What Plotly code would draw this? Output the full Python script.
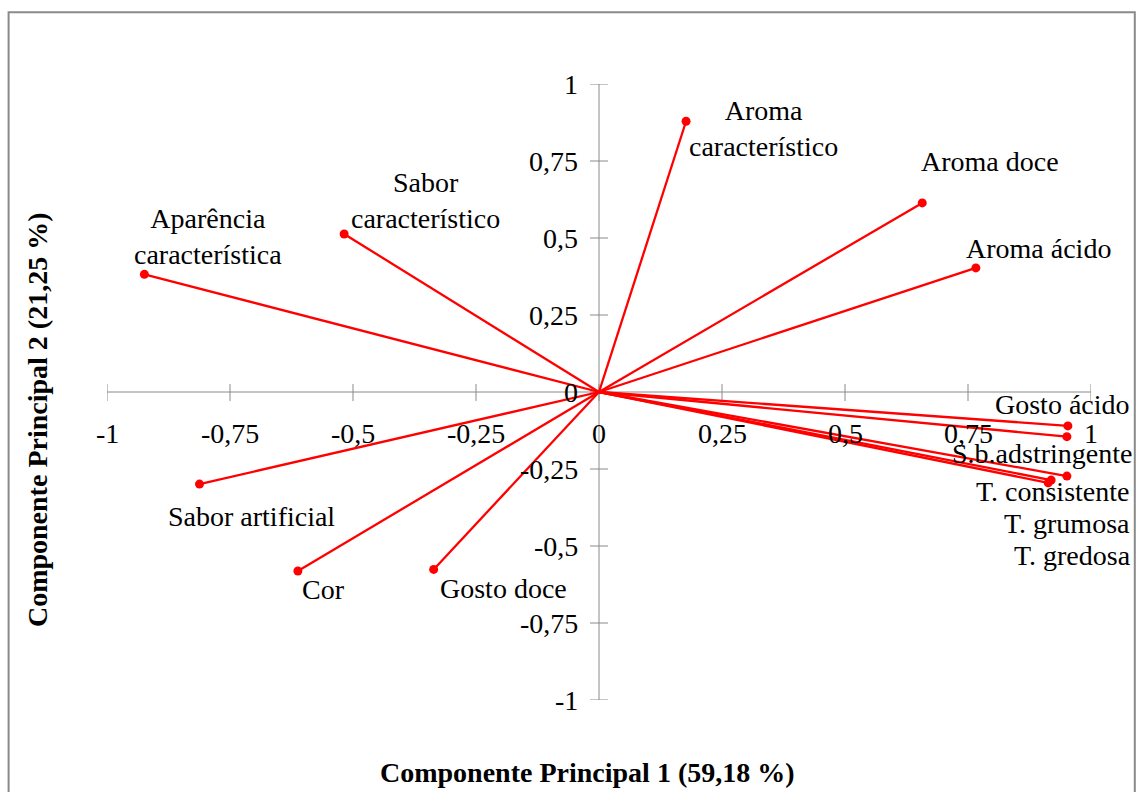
import plotly.graph_objects as go

# Loadings of the sensory attributes on the first two principal components
attributes = [
    "Aparência<br>característica",
    "Sabor<br>característico",
    "Aroma<br>característico",
    "Aroma doce",
    "Aroma ácido",
    "Gosto ácido",
    "S.b.adstringente",
    "T. consistente",
    "T. grumosa",
    "T. gredosa",
    "Sabor artificial",
    "Cor",
    "Gosto doce",
]
pc1 = [-0.924, -0.518, 0.177, 0.657, 0.766, 0.953, 0.951, 0.951, 0.919, 0.913, -0.812, -0.612, -0.336]
pc2 = [0.382, 0.513, 0.879, 0.614, 0.403, -0.110, -0.145, -0.273, -0.286, -0.295, -0.299, -0.581, -0.576]

tick_values = [-1, -0.75, -0.5, -0.25, 0, 0.25, 0.5, 0.75, 1]
tick_labels = ["-1", "-0,75", "-0,5", "-0,25", "0", "0,25", "0,5", "0,75", "1"]

x_title = "Componente Principal 1 (59,18 %)"
y_title = "Componente Principal 2 (21,25 %)"

# pixel offsets of each attribute label from its vector tip
label_offsets = {
    "Aparência<br>característica": (64, -38),
    "Sabor<br>característico": (81, -34),
    "Aroma<br>característico": (77, 7),
    "Aroma doce": (68, -41),
    "Aroma ácido": (63, -19),
    "Gosto ácido": (-5, -21),
    "S.b.adstringente": (-25, 17),
    "T. consistente": (-14, 15),
    "T. grumosa": (16, 43),
    "T. gredosa": (24, 73),
    "Sabor artificial": (52, 32),
    "Cor": (26, 19),
    "Gosto doce": (70, 19),
}

FONT = "Liberation Serif, Times New Roman, serif"
RED = "#ff0000"
AXIS_GREY = "#8a8a8a"

fig = go.Figure()

# vectors from the origin to each loading
lx, ly = [], []
for x, y in zip(pc1, pc2):
    lx += [0, x, None]
    ly += [0, y, None]
fig.add_trace(go.Scatter(x=lx, y=ly, mode="lines",
                         line=dict(color=RED, width=2.3), hoverinfo="skip"))
fig.add_trace(go.Scatter(x=pc1, y=pc2, mode="markers",
                         marker=dict(color=RED, size=9),
                         text=[a.replace("<br>", " ") for a in attributes],
                         hoverinfo="text"))

shapes = []
# axes crossing at the origin
shapes.append(dict(type="line", xref="x", yref="y", x0=-1, x1=1, y0=0, y1=0,
                   line=dict(color=AXIS_GREY, width=1), layer="below"))
shapes.append(dict(type="line", xref="x", yref="y", x0=0, x1=0, y0=-1, y1=1,
                   line=dict(color=AXIS_GREY, width=1), layer="below"))
for t in tick_values:
    shapes.append(dict(type="line", xref="x", yref="y", xsizemode="scaled",
                       ysizemode="pixel", yanchor=0, x0=t, x1=t, y0=-9, y1=8,
                       line=dict(color=AXIS_GREY, width=1), layer="below"))
    shapes.append(dict(type="line", xref="x", yref="y", ysizemode="scaled",
                       xsizemode="pixel", xanchor=0, y0=t, y1=t, x0=-9, x1=9,
                       line=dict(color=AXIS_GREY, width=1), layer="below"))
# outer chart border
shapes.append(dict(type="rect", xref="paper", yref="paper",
                   x0=-0.1, x1=1.0445, y0=-0.2, y1=1.1165,
                   line=dict(color=AXIS_GREY, width=2), fillcolor="rgba(0,0,0,0)",
                   layer="below"))

annotations = []
for t, lab in zip(tick_values, tick_labels):
    annotations.append(dict(x=t, y=0, xref="x", yref="y", text=lab, showarrow=False,
                            yshift=-41, xanchor="center", yanchor="middle",
                            font=dict(family=FONT, size=28, color="black")))
    annotations.append(dict(x=0, y=t, xref="x", yref="y", text=lab, showarrow=False,
                            xshift=-19, xanchor="right", yanchor="middle",
                            font=dict(family=FONT, size=28, color="black")))

for name, x, y in zip(attributes, pc1, pc2):
    dx, dy = label_offsets[name]
    annotations.append(dict(x=x, y=y, xref="x", yref="y", text=name,
                            showarrow=True, ax=dx, ay=dy, arrowcolor="rgba(0,0,0,0)",
                            arrowwidth=0.1, align="center",
                            font=dict(family=FONT, size=28, color="black")))

annotations.append(dict(x=0.4888, y=-0.117, xref="paper", yref="paper",
                        text="<b>" + x_title + "</b>", showarrow=False,
                        xanchor="center", yanchor="middle",
                        font=dict(family=FONT, size=28, color="black")))
annotations.append(dict(x=-0.0711, y=0.4545, xref="paper", yref="paper",
                        text="<b>" + y_title + "</b>", showarrow=False, textangle=-90,
                        xanchor="center", yanchor="middle",
                        font=dict(family=FONT, size=28, color="black")))

fig.update_layout(
    width=1136, height=792,
    margin=dict(l=107, r=45, t=84, b=92),
    paper_bgcolor="white", plot_bgcolor="white",
    showlegend=False,
    xaxis=dict(range=[-1, 1], visible=False, fixedrange=True),
    yaxis=dict(range=[-1, 1], visible=False, fixedrange=True),
    shapes=shapes,
    annotations=annotations,
)

fig.write_html("out.html", config={"displayModeBar": False})
